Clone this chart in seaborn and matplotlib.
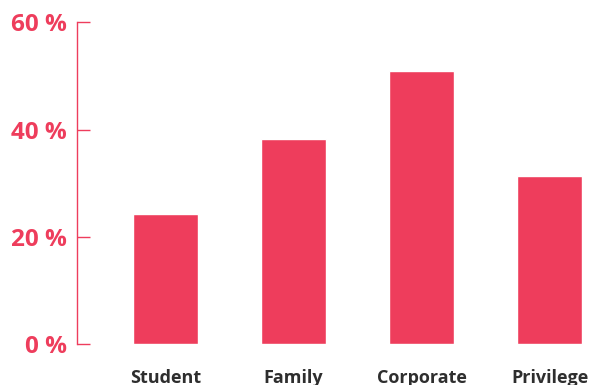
import matplotlib
matplotlib.use("Agg")
import matplotlib.pyplot as plt
import seaborn as sns
import pandas as pd

# Share of customers by plan type (percent)
plans = ["Student", "Family", "Corporate", "Privilege"]
shares = [24.2, 38.2, 50.9, 31.3]
y_ticks = [0, 20, 40, 60]
y_tick_labels = ["0 %", "20 %", "40 %", "60 %"]

accent = "#EE3D5C"
label_dark = "#2E2E2E"

sns.set_theme(style="white")
plt.rcParams["font.family"] = ["Open Sans", "DejaVu Sans"]

df = pd.DataFrame({"plan": plans, "share": shares})

fig = plt.figure(figsize=(5.9, 3.85), dpi=100)
ax = fig.add_axes([77 / 590, 41 / 385, 513 / 590, 321.7 / 385])

sns.barplot(data=df, x="plan", y="share", color=accent, saturation=1,
            width=0.51, ax=ax)

ax.set_xlim(-0.691, 3.316)
ax.set_ylim(0, 60)
ax.set_yticks(y_ticks)
ax.set_yticklabels(y_tick_labels)
ax.set_xlabel("")
ax.set_ylabel("")

for side in ["top", "right", "bottom"]:
    ax.spines[side].set_visible(False)
ax.spines["left"].set_color(accent)
ax.spines["left"].set_linewidth(1.0)

ax.tick_params(axis="y", direction="in", length=9.4, width=1.0, color=accent,
               pad=7.2, labelsize=17.5, labelcolor=accent, left=True)
ax.tick_params(axis="x", length=0, pad=18, labelsize=13, labelcolor=label_dark)
for lbl in ax.get_yticklabels():
    lbl.set_fontweight("bold")
for lbl in ax.get_xticklabels():
    lbl.set_fontweight("bold")

fig.savefig("out.png", dpi=100)
